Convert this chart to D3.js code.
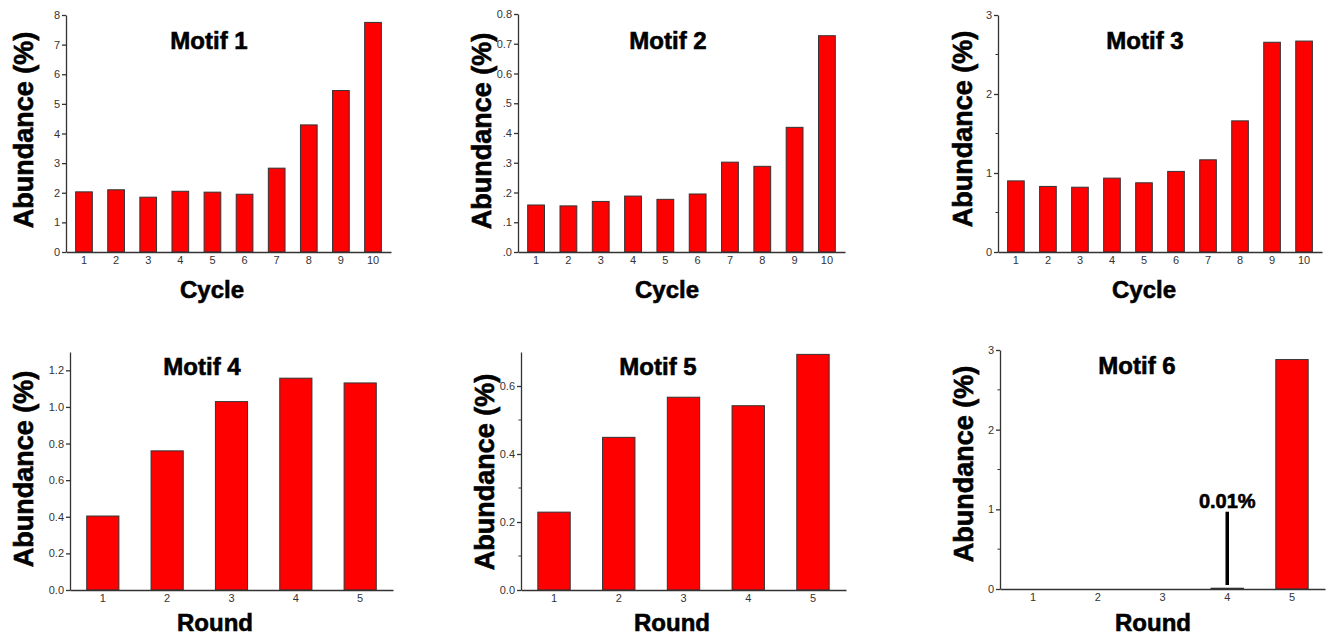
<!DOCTYPE html>
<html>
<head>
<meta charset="utf-8">
<script src="https://cdn.jsdelivr.net/npm/d3@7"></script>
<style>
  body { margin: 0; background: #fff; }
  svg { display: block; font-family: "Liberation Sans", Arial, sans-serif; }
  .axis path, .axis line { stroke: #333; stroke-width: 1.3; }
  .axis text { font-size: 11px; fill: #333; font-family: "Liberation Sans", Arial, sans-serif; }
  .title, .xlab, .ylab, .note { font-weight: bold; fill: #000; stroke: #000; stroke-width: 0.6; }
</style>
</head>
<body>
<script>
// categories
var cycles = ["1","2","3","4","5","6","7","8","9","10"];
var rounds = ["1","2","3","4","5"];

// values (%)
var motif1 = [2.03, 2.10, 1.85, 2.05, 2.02, 1.95, 2.83, 4.29, 5.45, 7.75];
var motif2 = [0.158, 0.155, 0.170, 0.188, 0.177, 0.195, 0.302, 0.288, 0.419, 0.727];
var motif3 = [0.90, 0.83, 0.82, 0.935, 0.876, 1.02, 1.167, 1.66, 2.655, 2.67];
var motif4 = [0.404, 0.760, 1.029, 1.157, 1.131];
var motif5 = [0.229, 0.449, 0.567, 0.542, 0.693];
var motif6 = [0, 0, 0, 0.01, 2.88];

// tick values / labels
var ticks1 = [0,1,2,3,4,5,6,7,8];
var ticks2 = [0,0.1,0.2,0.3,0.4,0.5,0.6,0.7,0.8];
var tickLabels2 = [".0",".1",".2",".3",".4",".5","0.6","0.7","0.8"];
var ticks3 = [0,1,2,3];
var ticks4 = [0,0.2,0.4,0.6,0.8,1.0,1.2];
var ticks5 = [0,0.2,0.4,0.6];
var ticks6 = [0,1,2,3];

var width = 1328, height = 636;
var svg = d3.select("body").append("svg").attr("width", width).attr("height", height);

var panels = [
  {title:"Motif 1", cats:cycles, vals:motif1, max:8, ticks:ticks1, fmt:d3.format("d"),
   left:66, right:391, top:15, bottom:252, pi:0.48, po:0.3,
   tx:209, ty:49, xl:"Cycle", xlx:212, xly:298, ylx:33, yly:130},
  {title:"Motif 2", cats:cycles, vals:motif2, max:0.8, ticks:ticks2, labels:tickLabels2,
   left:518, right:845, top:14, bottom:252, pi:0.48, po:0.3,
   tx:668, ty:49, xl:"Cycle", xlx:667, xly:298, ylx:491, yly:131},
  {title:"Motif 3", cats:cycles, vals:motif3, max:3, ticks:ticks3, minor:[0.5,1.5,2.5], fmt:d3.format("d"),
   left:998, right:1322, top:15, bottom:252, pi:0.48, po:0.3,
   tx:1145, ty:49, xl:"Cycle", xlx:1144, xly:298, ylx:972, yly:129},
  {title:"Motif 4", cats:rounds, vals:motif4, max:1.3, ticks:ticks4, fmt:d3.format(".1f"),
   left:70, right:393, top:352, bottom:590, pi:0.5, po:0.26,
   tx:202, ty:375, xl:"Round", xlx:215, xly:631, ylx:33, yly:469},
  {title:"Motif 5", cats:rounds, vals:motif5, max:0.7, ticks:ticks5, minor:[0.1,0.3,0.5], fmt:d3.format(".1f"),
   left:521, right:846, top:352, bottom:590, pi:0.5, po:0.26,
   tx:658, ty:375, xl:"Round", xlx:672, xly:631, ylx:494, yly:472},
  {title:"Motif 6", cats:rounds, vals:motif6, max:3, ticks:ticks6, minor:[0.5,1.5,2.5], fmt:d3.format("d"),
   left:1000, right:1325, top:350, bottom:589, pi:0.5, po:0.26,
   tx:1137, ty:374, xl:"Round", xlx:1153, xly:631, ylx:973, yly:464,
   note:{cat:"4", text:"0.01%", from:0.05, to:0.97}}
];

panels.forEach(function(p){
  var g = svg.append("g");

  var x = d3.scaleBand().domain(p.cats).range([p.left, p.right])
    .paddingInner(p.pi).paddingOuter(p.po);
  var y = d3.scaleLinear().domain([0, p.max]).range([p.bottom, p.top]);

  // bars
  g.selectAll("rect.bar").data(p.vals)
    .join("rect")
    .attr("class", "bar")
    .attr("x", function(d,i){ return x(p.cats[i]); })
    .attr("width", x.bandwidth())
    .attr("y", function(d){ return y(d); })
    .attr("height", function(d){ return p.bottom - y(d); })
    .attr("fill", function(d){ return d > 0 ? "#ff0000" : "none"; })
    .attr("stroke", function(d){ return d > 0 ? "#333" : "none"; })
    .attr("stroke-width", 1);

  // minor ticks
  if (p.minor) {
    g.selectAll("line.minor").data(p.minor)
      .join("line")
      .attr("class", "minor")
      .attr("x1", p.left - 2.5).attr("x2", p.left)
      .attr("y1", function(d){ return y(d); })
      .attr("y2", function(d){ return y(d); })
      .attr("stroke", "#333").attr("stroke-width", 1);
  }

  // y axis
  var yAxis = d3.axisLeft(y).tickValues(p.ticks).tickSizeInner(4).tickSizeOuter(0).tickPadding(2);
  if (p.labels) yAxis.tickFormat(function(d,i){ return p.labels[i]; });
  else yAxis.tickFormat(p.fmt);
  g.append("g").attr("class", "axis")
    .attr("transform", "translate(" + p.left + ",0)")
    .call(yAxis);

  // x axis
  g.append("g").attr("class", "axis")
    .attr("transform", "translate(0," + p.bottom + ")")
    .call(d3.axisBottom(x).tickSizeInner(0).tickSizeOuter(0).tickPadding(4));

  // titles
  g.append("text").attr("class", "title")
    .attr("x", p.tx).attr("y", p.ty)
    .attr("text-anchor", "middle").style("font-size", "24px")
    .text(p.title);
  g.append("text").attr("class", "xlab")
    .attr("x", p.xlx).attr("y", p.xly)
    .attr("text-anchor", "middle").style("font-size", "24px")
    .text(p.xl);
  g.append("text").attr("class", "ylab")
    .attr("transform", "translate(" + p.ylx + "," + p.yly + ") rotate(-90)")
    .attr("text-anchor", "middle").style("font-size", "27px")
    .text("Abundance (%)");

  // annotation for the tiny bar
  if (p.note) {
    var cx = x(p.note.cat) + x.bandwidth() / 2;
    g.append("line")
      .attr("x1", cx).attr("x2", cx)
      .attr("y1", y(p.note.from)).attr("y2", y(p.note.to))
      .attr("stroke", "#000").attr("stroke-width", 3.5);
    g.append("text").attr("class", "note")
      .attr("x", cx).attr("y", y(p.note.to) - 4)
      .attr("text-anchor", "middle")
      .style("font-size", "20px")
      .text(p.note.text);
  }
});
</script>
</body>
</html>
